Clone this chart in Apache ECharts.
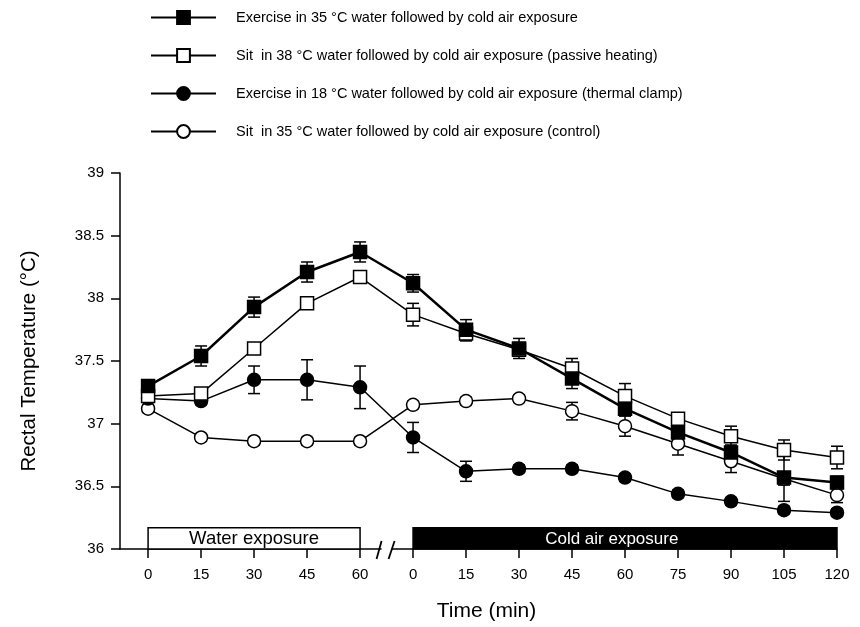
<!DOCTYPE html>
<html>
<head>
    <meta http-equiv="Content-Type" content="text/html; charset=utf-8" />
    <title>Rectal temperature</title>
    <style type="text/css">
        * { margin: 0; padding: 0 }
        html, body { width: 100%; height: 100%; background: #fff; }
        #chart { width: 860px; height: 627px; }
    </style>
</head>
<body>
    <div id="chart"></div>
    <script src="https://cdn.jsdelivr.net/npm/echarts@6/dist/echarts.min.js"></script>
    <script>
        // time points: 5 in water, 9 in cold air (index on the x axis)
        const timeLabels = ['0', '15', '30', '45', '60', '0', '15', '30', '45', '60', '75', '90', '105', '120'];
        const seriesNames = [
            'Exercise in 35 °C water followed by cold air exposure',
            'Sit  in 38 °C water followed by cold air exposure (passive heating)',
            'Exercise in 18 °C water followed by cold air exposure (thermal clamp)',
            'Sit  in 35 °C water followed by cold air exposure (control)'
        ];
        const exercise35 = [37.30, 37.54, 37.93, 38.21, 38.37, 38.12, 37.75, 37.60, 37.36, 37.12, 36.93, 36.77, 36.57, 36.53];
        const passive38 = [37.22, 37.24, 37.60, 37.96, 38.17, 37.87, 37.72, 37.59, 37.44, 37.22, 37.04, 36.90, 36.79, 36.73];
        const clamp18 = [37.20, 37.18, 37.35, 37.35, 37.29, 36.89, 36.62, 36.64, 36.64, 36.57, 36.44, 36.38, 36.31, 36.29];
        const control35 = [37.12, 36.89, 36.86, 36.86, 36.86, 37.15, 37.18, 37.20, 37.10, 36.98, 36.84, 36.70, 36.56, 36.43];
        // error bars (half length)
        const exercise35Err = [0.03, 0.08, 0.08, 0.08, 0.08, 0.07, 0.08, 0.08, 0.08, 0.05, 0.05, 0.06, 0.19, 0.05];
        const passive38Err = [0.03, 0.03, 0.03, 0.03, 0.03, 0.09, 0.06, 0.04, 0.08, 0.10, 0.03, 0.08, 0.08, 0.09];
        const clamp18Err = [0.03, 0.03, 0.11, 0.16, 0.17, 0.12, 0.08, 0.03, 0.03, 0.03, 0.03, 0.03, 0.03, 0.03];
        const control35Err = [0.03, 0.03, 0.03, 0.03, 0.03, 0.03, 0.03, 0.03, 0.07, 0.08, 0.09, 0.09, 0.05, 0.06];
        // exposure phases: [start index, end index, label centre, label]
        const phases = [[0, 4, 2, 'Water exposure'], [5, 13, 8.75, 'Cold air exposure']];

        const FONT = 'Liberation Sans, Arial, Helvetica, sans-serif';
        const chart = echarts.init(document.getElementById('chart'));

        const toPoints = vals => vals.map((v, i) => [i, v]);
        const toErr = (vals, errs) => vals.map((v, i) => [i, v - errs[i], v + errs[i]]);

        const errorSeries = (vals, errs) => ({
            type: 'custom',
            z: 1,
            silent: true,
            clip: false,
            data: toErr(vals, errs),
            encode: { x: 0, y: [1, 2] },
            renderItem: (params, api) => {
                const lo = api.coord([api.value(0), api.value(1)]);
                const hi = api.coord([api.value(0), api.value(2)]);
                const w = 6;
                const style = { stroke: '#000', lineWidth: 1.5 };
                return {
                    type: 'group',
                    children: [
                        { type: 'line', shape: { x1: lo[0], y1: lo[1], x2: hi[0], y2: hi[1] }, style },
                        { type: 'line', shape: { x1: lo[0] - w, y1: lo[1], x2: lo[0] + w, y2: lo[1] }, style },
                        { type: 'line', shape: { x1: hi[0] - w, y1: hi[1], x2: hi[0] + w, y2: hi[1] }, style }
                    ]
                };
            }
        });

        const lineSeries = (name, vals, symbol, filled, width) => ({
            name,
            type: 'line',
            z: 3,
            data: toPoints(vals),
            symbol,
            symbolSize: 13,
            showAllSymbol: true,
            lineStyle: { color: '#000', width },
            itemStyle: { color: filled ? '#000' : '#fff', borderColor: '#000', borderWidth: 1.5 },
            emphasis: { disabled: true }
        });

        const option = {
            animation: false,
            textStyle: { fontFamily: FONT, color: '#000' },
            legend: {
                orient: 'vertical',
                left: 145,
                top: 5,
                itemWidth: 65,
                itemHeight: 16,
                itemGap: 23,
                data: seriesNames,
                textStyle: { fontFamily: FONT, fontSize: 14.5, color: '#000', padding: [0, 0, 0, 15] }
            },
            grid: { left: 120, right: 23, top: 173, bottom: 76 },
            xAxis: {
                type: 'value',
                min: -0.53,
                max: 13,
                name: 'Time (min)',
                nameLocation: 'middle',
                nameGap: 52,
                nameTextStyle: { fontSize: 21, color: '#000', padding: [0, 0, 0, 16] },
                splitLine: { show: false },
                axisLine: { onZero: false, lineStyle: { color: '#000', width: 1.5 } },
                axisTick: { customValues: timeLabels.map((t, i) => i), length: 9, lineStyle: { color: '#000', width: 1.5 } },
                axisLabel: {
                    customValues: timeLabels.map((t, i) => i),
                    formatter: v => timeLabels[Math.round(v)],
                    fontSize: 15,
                    color: '#000',
                    margin: 18
                }
            },
            yAxis: {
                type: 'value',
                min: 36,
                max: 39,
                interval: 0.5,
                name: 'Rectal Temperature (°C)',
                nameLocation: 'middle',
                nameGap: 80,
                nameRotate: 90,
                nameTextStyle: { fontSize: 20.5, color: '#000' },
                splitLine: { show: false },
                axisLine: { show: true, onZero: false, lineStyle: { color: '#000', width: 1.5 } },
                axisTick: { show: true, length: 9, lineStyle: { color: '#000', width: 1.5 } },
                axisLabel: { fontSize: 15, color: '#000', margin: 16 }
            },
            series: [
                // exposure phase bars along the bottom
                {
                    type: 'custom',
                    z: 2,
                    silent: true,
                    clip: false,
                    data: phases.map(p => [p[0], p[1], p[2]]),
                    renderItem: (params, api) => {
                        const a = api.coord([api.value(0), 36.17]);
                        const b = api.coord([api.value(1), 36]);
                        const t = api.coord([api.value(2), 36.085]);
                        const dark = params.dataIndex === 1;
                        return {
                            type: 'group',
                            children: [
                                {
                                    type: 'rect',
                                    shape: { x: a[0], y: a[1], width: b[0] - a[0], height: b[1] - a[1] },
                                    style: { fill: dark ? '#000' : '#fff', stroke: '#000', lineWidth: 1.5 }
                                },
                                {
                                    type: 'text',
                                    x: t[0],
                                    y: t[1] + 0.5,
                                    style: {
                                        text: phases[params.dataIndex][3],
                                        fill: dark ? '#fff' : '#000',
                                        font: (dark ? '17px ' : '18.5px ') + FONT,
                                        align: 'center',
                                        verticalAlign: 'middle'
                                    }
                                }
                            ]
                        };
                    }
                },
                // axis break mark between the two phases
                {
                    type: 'custom',
                    z: 4,
                    silent: true,
                    clip: false,
                    data: [[4.5, 36]],
                    renderItem: (params, api) => {
                        const c = api.coord([api.value(0), api.value(1)]);
                        const style = { stroke: '#000', lineWidth: 1.8 };
                        return {
                            type: 'group',
                            children: [
                                { type: 'rect', shape: { x: c[0] - 5, y: c[1] - 2, width: 10, height: 4 }, style: { fill: '#fff' } },
                                { type: 'line', shape: { x1: c[0] - 10, y1: c[1] + 10, x2: c[0] - 5, y2: c[1] - 8 }, style },
                                { type: 'line', shape: { x1: c[0] + 2, y1: c[1] + 10, x2: c[0] + 8, y2: c[1] - 8 }, style }
                            ]
                        };
                    }
                },
                errorSeries(exercise35, exercise35Err),
                errorSeries(passive38, passive38Err),
                errorSeries(clamp18, clamp18Err),
                errorSeries(control35, control35Err),
                lineSeries(seriesNames[3], control35, 'circle', false, 1.5),
                lineSeries(seriesNames[2], clamp18, 'circle', true, 1.5),
                lineSeries(seriesNames[1], passive38, 'rect', false, 1.5),
                lineSeries(seriesNames[0], exercise35, 'rect', true, 2.5)
            ]
        };
        chart.setOption(option);
    </script>
</body>
</html>
